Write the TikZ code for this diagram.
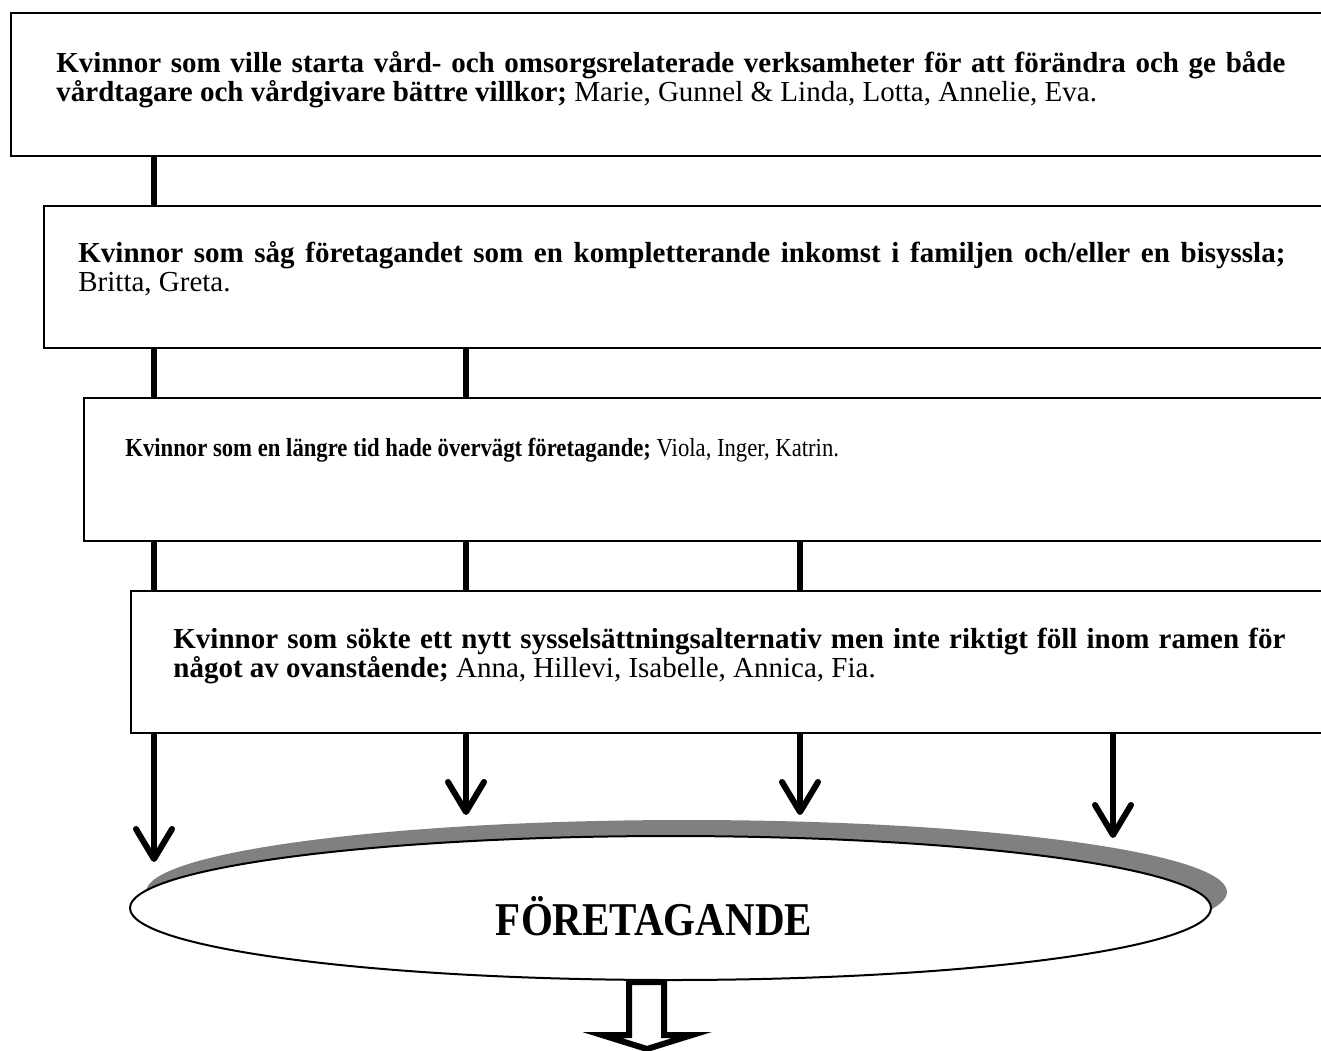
\documentclass[tikz,border=0pt]{standalone}
\usepackage{fontspec}
\setmainfont{Liberation Serif}
\newfontfamily\narrowfont{Liberation Serif}[FakeStretch=0.873]
\usetikzlibrary{arrows.meta,shapes.geometric,shadows,backgrounds}
\hyphenpenalty=10000
\exhyphenpenalty=10000

\tikzset{
  kvbox/.style={draw, line width=0.75pt, fill=white, anchor=north west, inner sep=0pt, minimum width=690pt},
  kvtext/.style={anchor=base west, inner sep=0pt, align=justify, font=\fontsize{14.5}{14.7}\selectfont},
  flow/.style={line width=3pt, -{Straight Barb[length=15pt,width=18pt,round]}},
}

\begin{document}
\begin{tikzpicture}[x=0.5pt, y=-0.5pt]
			%%%%% START %%%%%
			\useasboundingbox (0,0) rectangle (1321,1050);
			\clip (0,0) rectangle (1321,1050);
			
			% boxes (run out past the right edge)
			\node[kvbox, minimum height=71.5pt] (box1) at (10,12) {};
			\node[kvbox, minimum height=71pt] (box2) at (43,205) {};
			\node[kvbox, minimum height=71.5pt] (box3) at (83,397) {};
			\node[kvbox, minimum height=71pt] (box4) at (130,590) {};
			
			\node[kvtext, text width=614.5pt] (text1) at (56,72) {\textbf{Kvinnor som ville starta vård- och omsorgsrelaterade verksamheter för att förändra och ge både\linebreak vårdtagare och vårdgivare bättre villkor;} Marie, Gunnel \& Linda, Lotta, Annelie, Eva.};
			\node[kvtext, text width=603.5pt] (text2) at (78,262) {\textbf{Kvinnor som såg företagandet som en kompletterande inkomst i familjen och/eller en bisyssla;}\linebreak Britta, Greta.};
			\node[kvtext, font=\narrowfont\fontsize{13}{14.7}\selectfont] (text3) at (125,456) {\textbf{Kvinnor som en längre tid hade övervägt företagande;} Viola, Inger, Katrin.};
			\node[kvtext, text width=556pt] (text4) at (173,648) {\textbf{Kvinnor som sökte ett nytt sysselsättningsalternativ men inte riktigt föll inom ramen för\linebreak något av ovanstående;} Anna, Hillevi, Isabelle, Annica, Fia.};
			
			% ellipse with shadow
			\node[ellipse, draw, line width=1pt, fill=white, inner sep=0pt, minimum width=540.5pt, minimum height=72pt,
			      drop shadow={shadow xshift=8pt, shadow yshift=8pt, fill=black!50, opacity=1}] (firm) at (670.5,908) {};
			\node[anchor=base, inner sep=0pt, font=\narrowfont\bfseries\fontsize{23.5}{28}\selectfont] (title) at (654,935) {FÖRETAGANDE};
			
			% arrow ends
			\coordinate (tip1) at (154,862);
			\coordinate (tip2) at (466,815);
			\coordinate (tip3) at (800,815);
			\coordinate (tip4) at (1113,838);
			
			\begin{scope}[on background layer]
			\draw[flow] (box1.south -| tip1) -- (tip1);
			\draw[flow] (box2.south -| tip2) -- (tip2);
			\draw[flow] (box3.south -| tip3) -- (tip3);
			\draw[flow] (box4.south -| tip4) -- (tip4);
			\end{scope}
			
			% block arrow out of the ellipse
			\draw[line width=3pt, fill=white] (629,982) -- (629,1035) -- (602,1035) -- (647,1049) -- (692,1035) -- (664,1035) -- (664,982) -- cycle;
			
			%%%%% END %%%%%
\end{tikzpicture}
\end{document}
